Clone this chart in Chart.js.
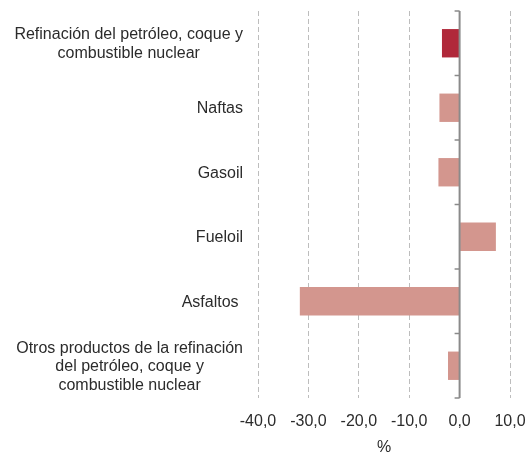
<!DOCTYPE html>
<html>
<head>
<meta charset="utf-8">
<script src="https://cdn.jsdelivr.net/npm/chart.js@4"></script>
<style>
  html, body { margin: 0; padding: 0; background: #fff; }
  #wrap { width: 526px; height: 452px; }
</style>
</head>
<body>
<div id="wrap"><canvas id="chart"></canvas></div>
<script>
// Categorías y variación (%)
const categorias = [
  ["Refinación del petróleo, coque y", "combustible nuclear"],
  ["Naftas"],
  ["Gasoil"],
  ["Fueloil"],
  ["Asfaltos "],
  ["Otros productos de la refinación", "del petróleo, coque y", "combustible nuclear"]
]
const valores = [-3.5, -4.0, -4.2, 7.2, -31.7, -2.3]
const colores = ["#b0283a", "#d3968e", "#d3968e", "#d3968e", "#d3968e", "#d3968e"]
const xMin = -40
const xMax = 10
const xPaso = 10

const fuente = "'Liberation Sans', Arial, sans-serif"
const colorTexto = "#2b2b2b"

// etiquetas del eje y + línea del cero con marcas
const ejeCero = {
  id: "ejeCero",
  afterDatasetsDraw(chart) {
    const { ctx, scales, chartArea } = chart
    const x0 = scales.x.getPixelForValue(0)
    const y = scales.y
    ctx.save()
    ctx.strokeStyle = "#8a8a8a"
    ctx.lineWidth = 2
    ctx.beginPath()
    ctx.moveTo(x0, chartArea.top)
    ctx.lineTo(x0, chartArea.bottom)
    ctx.stroke()
    ctx.lineWidth = 1.5
    const paso = (chartArea.bottom - chartArea.top) / categorias.length
    for (let i = 0; i <= categorias.length; i++) {
      const yy = chartArea.top + i * paso
      ctx.beginPath()
      ctx.moveTo(x0 - 5, yy)
      ctx.lineTo(x0, yy)
      ctx.stroke()
    }

    ctx.font = "16px " + fuente
    ctx.fillStyle = colorTexto
    ctx.textBaseline = "middle"
    ctx.textAlign = "center"
    const derecha = 243
    const alto = 18.5
    categorias.forEach((lineas, i) => {
      const yc = y.getPixelForValue(i)
      const ancho = Math.max(...lineas.map(l => ctx.measureText(l).width))
      const xc = derecha - ancho / 2
      lineas.forEach((l, j) => {
        ctx.fillText(l, xc, yc + (j - (lineas.length - 1) / 2) * alto + 1)
      })
    })
    ctx.restore()
  }
}

new Chart(document.getElementById("chart"), {
  type: "bar",
  data: {
    labels: categorias.map(c => c.join(" ")),
    datasets: [{
      data: valores,
      backgroundColor: colores,
      borderWidth: 0,
      categoryPercentage: 1,
      barPercentage: 0.44
    }]
  },
  options: {
    indexAxis: "y",
    responsive: true,
    maintainAspectRatio: false,
    animation: false,
    layout: { padding: { left: 258, right: 16, top: 11, bottom: 0 } },
    plugins: {
      legend: { display: false },
      tooltip: { enabled: false }
    },
    scales: {
      y: {
        display: false
      },
      x: {
        min: xMin,
        max: xMax,
        ticks: {
          stepSize: xPaso,
          color: colorTexto,
          font: { family: fuente, size: 16 },
          padding: 14,
          callback: (v) => v.toFixed(1).replace(".", ",")
        },
        grid: {
          color: "#bdbdbd",
          lineWidth: 1,
          drawTicks: false
        },
        border: { display: false, dash: [5, 3] },
        title: {
          display: true,
          text: "%",
          color: colorTexto,
          font: { family: fuente, size: 16 },
          padding: { top: 6, bottom: -5 }
        },
        afterFit(scale) {
          scale.height = 54
          scale.paddingLeft = 0
          scale.paddingRight = 0
        }
      }
    }
  },
  plugins: [ejeCero]
})
</script>
</body>
</html>
